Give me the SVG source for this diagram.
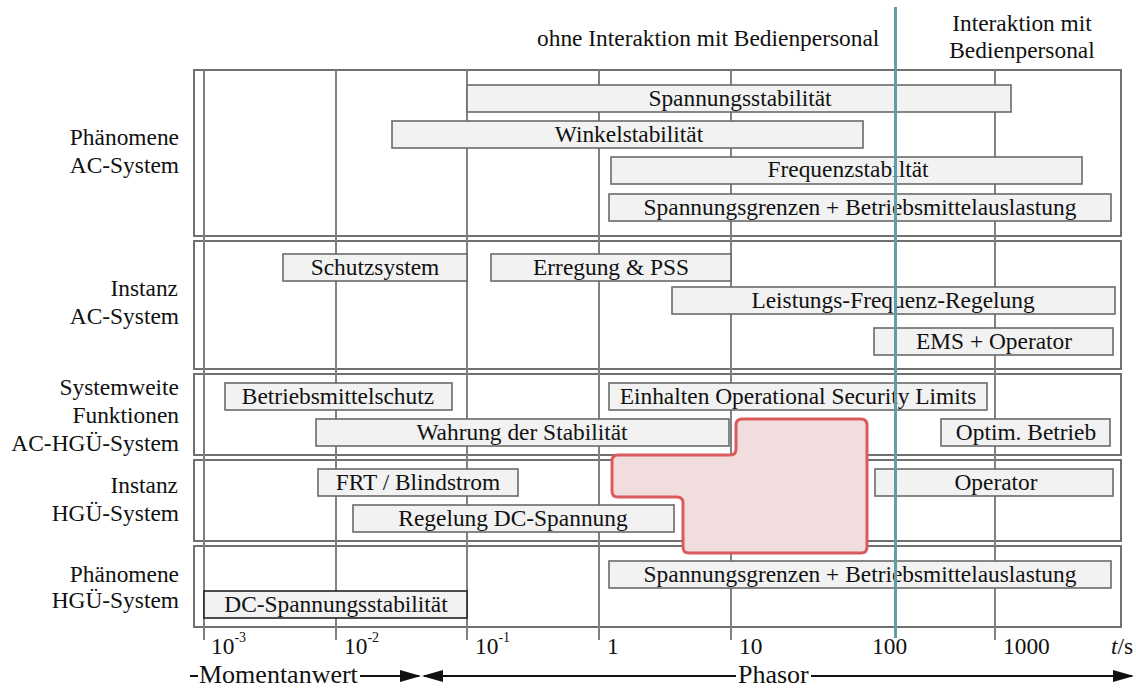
<svg xmlns="http://www.w3.org/2000/svg" width="1136" height="688" viewBox="0 0 1136 688">
  <style>
    text { font-family: "Liberation Serif", "Times New Roman", serif; font-size: 23.4px; fill: #111; }
    .lbl { text-anchor: end; }
    .mid { text-anchor: middle; }
    .big { font-size: 26px; }
    .sup { font-size: 14px; }
    .frame { fill: none; stroke: #707070; stroke-width: 2; }
    .grid { stroke: #808080; stroke-width: 2; }
    .bar rect { fill: #f2f2f2; stroke: #6a6a6a; stroke-width: 1.6; }
    .bar text { text-anchor: middle; }
    .bar.dark rect { stroke: #222; }
    .axis { stroke: #111; stroke-width: 2; fill: none; }
  </style>
  <defs>
    <marker id="head" markerUnits="userSpaceOnUse" markerWidth="22" markerHeight="12" refX="19" refY="6" orient="auto-start-reverse">
      <path d="M0,0 L21,6 L0,12 z" fill="#111"/>
    </marker>
  </defs>

  <rect width="1136" height="688" fill="#fff"/>

  <!-- section frames -->
  <g id="sections">
    <rect class="frame" x="194" y="70" width="927" height="166"/>
    <rect class="frame" x="194" y="241" width="927" height="128"/>
    <rect class="frame" x="194" y="374" width="927" height="81"/>
    <rect class="frame" x="194" y="460" width="927" height="81"/>
    <rect class="frame" x="194" y="546" width="927" height="81"/>
  </g>

  <!-- decade grid lines and ticks -->
  <g id="grid">
    <line class="grid" x1="204" y1="70" x2="204" y2="640"/>
    <line class="grid" x1="336" y1="70" x2="336" y2="640"/>
    <line class="grid" x1="467" y1="70" x2="467" y2="640"/>
    <line class="grid" x1="599" y1="70" x2="599" y2="640"/>
    <line class="grid" x1="731" y1="70" x2="731" y2="640"/>
    <line class="grid" x1="995" y1="70" x2="995" y2="640"/>
  </g>

  <!-- row labels -->
  <g id="row-labels">
    <text class="lbl" x="179" y="145">Phänomene</text>
    <text class="lbl" x="179" y="173">AC-System</text>
    <text class="lbl" x="178" y="296">Instanz</text>
    <text class="lbl" x="179" y="324">AC-System</text>
    <text class="lbl" x="179" y="395">Systemweite</text>
    <text class="lbl" x="179" y="423">Funktionen</text>
    <text class="lbl" x="179" y="451">AC-HGÜ-System</text>
    <text class="lbl" x="178" y="493">Instanz</text>
    <text class="lbl" x="179" y="521">HGÜ-System</text>
    <text class="lbl" x="179" y="582">Phänomene</text>
    <text class="lbl" x="179" y="608">HGÜ-System</text>
  </g>

  <!-- header labels -->
  <g id="headers">
    <text x="537" y="46">ohne Interaktion mit Bedienpersonal</text>
    <text class="mid" x="1022" y="31">Interaktion mit</text>
    <text class="mid" x="1022" y="58">Bedienpersonal</text>
  </g>

  <!-- Phänomene AC-System -->
  <g id="spannungsstabilitaet" class="bar"><rect x="467" y="85" width="544" height="27"/><text x="740" y="106">Spannungsstabilität</text></g>
  <g id="winkelstabilitaet" class="bar"><rect x="392" y="121" width="471" height="27"/><text x="629" y="142">Winkelstabilität</text></g>
  <g id="frequenzstabilitaet" class="bar"><rect x="611" y="157" width="471" height="27"/><text x="848" y="177">Frequenzstabiltät</text></g>
  <g id="spannungsgrenzen-ac" class="bar"><rect x="609" y="194" width="502" height="27"/><text x="860" y="215">Spannungsgrenzen + Betriebsmittelauslastung</text></g>

  <!-- Instanz AC-System -->
  <g id="schutzsystem" class="bar"><rect x="283" y="254" width="184" height="27"/><text x="375" y="275">Schutzsystem</text></g>
  <g id="erregung-pss" class="bar"><rect x="491" y="254" width="240" height="27"/><text x="611" y="275">Erregung &amp; PSS</text></g>
  <g id="leistungs-frequenz-regelung" class="bar"><rect x="672" y="287" width="443" height="27"/><text x="893" y="308">Leistungs-Frequenz-Regelung</text></g>
  <g id="ems-operator" class="bar"><rect x="874" y="328" width="239" height="27"/><text x="994" y="349">EMS + Operator</text></g>

  <!-- Systemweite Funktionen AC-HGÜ-System -->
  <g id="betriebsmittelschutz" class="bar"><rect x="225" y="383" width="227" height="27"/><text x="338" y="404">Betriebsmittelschutz</text></g>
  <g id="operational-security-limits" class="bar"><rect x="609" y="383" width="378" height="27"/><text x="798" y="404">Einhalten Operational Security Limits</text></g>
  <g id="wahrung-stabilitaet" class="bar"><rect x="316" y="419" width="413" height="27"/><text x="522" y="440">Wahrung der Stabilität</text></g>
  <g id="optim-betrieb" class="bar"><rect x="941" y="419" width="169" height="27"/><text x="1026" y="440">Optim. Betrieb</text></g>

  <!-- Instanz HGÜ-System -->
  <g id="frt-blindstrom" class="bar"><rect x="318" y="469" width="200" height="27"/><text x="418" y="490">FRT / Blindstrom</text></g>
  <g id="regelung-dc" class="bar"><rect x="353" y="505" width="321" height="27"/><text x="513" y="526">Regelung DC-Spannung</text></g>
  <g id="operator" class="bar"><rect x="875" y="469" width="238" height="27"/><text x="996" y="490">Operator</text></g>

  <!-- Phänomene HGÜ-System -->
  <g id="spannungsgrenzen-hgue" class="bar"><rect x="609" y="561" width="502" height="27"/><text x="860" y="582">Spannungsgrenzen + Betriebsmittelauslastung</text></g>
  <g id="dc-spannungsstabilitaet" class="bar dark"><rect x="204" y="591" width="263" height="27"/><text x="336" y="612">DC-Spannungsstabilität</text></g>

  <!-- highlighted region -->
  <g id="highlight">
    <path d="M742 419 H861 Q867 419 867 425 V547 Q867 553 861 553 H689 Q683 553 683 547 V503 Q683 497 677 497 H618 Q612 497 612 491 V461 Q612 455 618 455 H730 Q736 455 736 449 V425 Q736 419 742 419 Z" fill="#f1dddd" stroke="#db5a5c" stroke-width="3"/>
  </g>

  <!-- operator interaction boundary -->
  <g id="boundary">
    <line x1="895.5" y1="7" x2="895.5" y2="638" stroke="#5f9dab" stroke-width="3"/>
  </g>

  <!-- time axis labels -->
  <g id="axis-labels">
    <text x="211" y="654">10<tspan class="sup" dy="-12">-3</tspan></text>
    <text x="344" y="654">10<tspan class="sup" dy="-12">-2</tspan></text>
    <text x="475" y="654">10<tspan class="sup" dy="-12">-1</tspan></text>
    <text x="607" y="654">1</text>
    <text x="739" y="654">10</text>
    <text x="872" y="654">100</text>
    <text x="1003" y="654">1000</text>
    <text x="1111" y="654"><tspan font-style="italic">t</tspan>/s</text>
  </g>

  <!-- signal representation ranges -->
  <g id="connectors">
    <line class="axis" x1="190" y1="676" x2="419" y2="676" marker-end="url(#head)"/>
    <line class="axis" x1="424" y1="676" x2="1132" y2="676" marker-start="url(#head)" marker-end="url(#head)"/>
  </g>
  <g id="range-labels">
    <rect x="198" y="662" width="162" height="26" fill="#fff"/>
    <text class="big" x="199" y="683">Momentanwert</text>
    <rect x="736" y="662" width="75" height="26" fill="#fff"/>
    <text class="big" x="738" y="683">Phasor</text>
  </g>
</svg>
